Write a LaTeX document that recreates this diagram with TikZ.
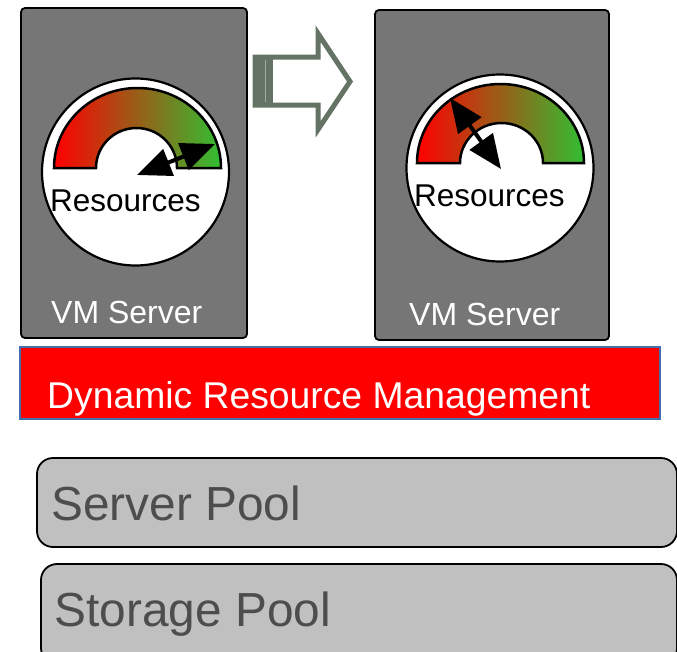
\documentclass[tikz,border=0pt]{standalone}
\usepackage{fontspec}
\setmainfont{Liberation Sans}
\usetikzlibrary{arrows.meta}
\definecolor{vm_gray}{RGB}{118, 118, 118}
\definecolor{pool_gray}{RGB}{192, 192, 192}
\definecolor{pool_text}{RGB}{77, 77, 77}
\definecolor{drm_border}{RGB}{70, 110, 170}
\definecolor{gauge_green}{RGB}{50, 190, 50}
\definecolor{move_green}{RGB}{100, 115, 100}
\tikzstyle{vm}=[rectangle,rounded corners=4pt,fill=vm_gray,draw=black,
  line width=1.8pt,inner sep=0pt]
\tikzstyle{pool}=[rectangle,rounded corners=16pt,fill=pool_gray,draw=black,
  line width=1.8pt,inner sep=0pt]
\tikzstyle{drm}=[rectangle,fill=red,draw=drm_border,line width=2pt,inner sep=0pt]
\tikzstyle{dial}=[circle,fill=white,draw=black,line width=2.2pt,inner sep=0pt,minimum size=187pt]
\tikzstyle{band}=[left color=red,right color=gauge_green,draw=black,line width=2.5pt]
\tikzstyle{needle}=[draw=black,line width=4pt,{Triangle[length=34pt,width=28pt]}-{Triangle[length=34pt,width=28pt]}]
\tikzstyle{txt}=[anchor=base west,inner sep=0pt,font=\fontsize{32}{36}\selectfont]
\tikzstyle{none}=[]

\begin{document}
\begin{tikzpicture}[x=1pt,y=-1pt]
            \clip (0, 0) rectangle (677, 651);
            \node [style=vm,minimum width=226pt,minimum height=330pt] (0) at (134, 173) {};
            \node [style=vm,minimum width=234pt,minimum height=330pt] (1) at (492, 175) {};
            \node [style=drm,minimum width=640pt,minimum height=72pt] (2) at (339.5, 382.5) {};
            \node [style=pool,minimum width=640pt,minimum height=89pt] (3) at (357, 502.5) {};
            \node [style=pool,minimum width=636pt,minimum height=100pt] (4) at (359, 614) {};
            \node [style=dial] (5) at (135.5, 172) {};
            \node [style=dial] (6) at (500, 168) {};
            % gauges
            \path [style=band] (54, 168) arc [start angle=180, end angle=0, x radius=83.5pt, y radius=80pt]
              -- (177, 168) arc [start angle=0, end angle=180, x radius=40.5pt, y radius=40pt] -- cycle;
            \path [style=band] (417, 163) arc [start angle=180, end angle=0, x radius=83.5pt, y radius=79pt]
              -- (543, 163) arc [start angle=0, end angle=180, x radius=41.5pt, y radius=40pt] -- cycle;
            \coordinate (7) at (137, 175);
            \coordinate (8) at (215, 144);
            \coordinate (9) at (450, 98);
            \coordinate (10) at (501, 169);
            \draw [style=needle] (7) to (8);
            \draw [style=needle] (9) to (10);
            % move arrow
            \draw [draw=move_green,fill=white,line width=5pt,miter limit=10]
              (255, 57) -- (318, 57) -- (318, 33.5) -- (350, 81.5) -- (318, 129.5) -- (318, 105) -- (255, 105) -- cycle;
            \fill [move_green] (253, 55) rectangle (273, 107);
            \fill [move_green!60!white] (264.5, 60) rectangle (266, 102);
            % labels
            \node [style=txt,text=black,font=\fontsize{31.5}{36}\selectfont] (11) at (50, 211) {Resources};
            \node [style=txt,text=black,font=\fontsize{31.5}{36}\selectfont] (12) at (414, 206) {Resources};
            \node [style=txt,text=white] (13) at (51, 323) {VM Server};
            \node [style=txt,text=white] (14) at (409, 325) {VM Server};
            \node [style=txt,text=white,font=\fontsize{37.3}{42}\selectfont] (15) at (47, 408.5) {Dynamic Resource Management};
            \node [style=txt,text=pool_text,font=\fontsize{47.8}{52}\selectfont] (16) at (51, 520) {Server Pool};
            \node [style=txt,text=pool_text,font=\fontsize{47.8}{52}\selectfont] (17) at (54.5, 626) {Storage Pool};
\end{tikzpicture}
\end{document}
